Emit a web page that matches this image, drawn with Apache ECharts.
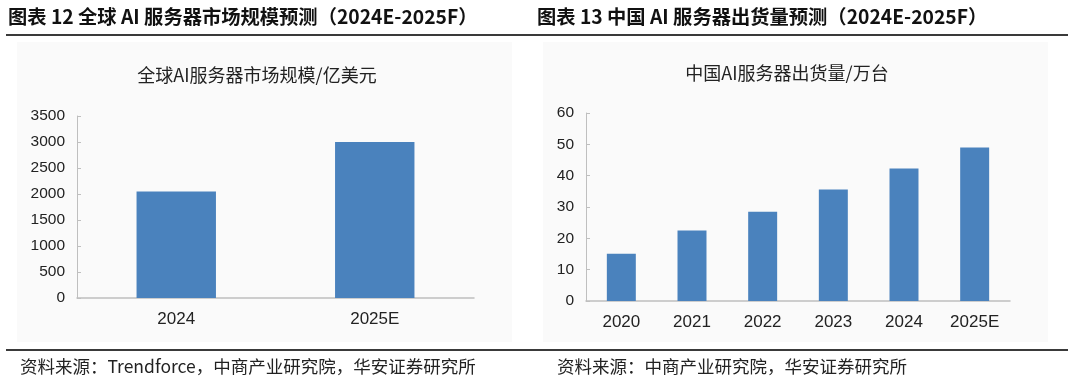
<!DOCTYPE html>
<html><head><meta charset="utf-8">
<script src="https://cdn.jsdelivr.net/npm/echarts@6/dist/echarts.min.js"></script>
<style>html,body{margin:0;padding:0;background:#fff}#c{width:1080px;height:383px}</style>
</head><body><div id="c"></div>
<script>
const headerLeft = '图表 12 全球 AI 服务器市场规模预测（2024E-2025F）';
const headerRight = '图表 13 中国 AI 服务器出货量预测（2024E-2025F）';
const titleLeft = '全球AI服务器市场规模/亿美元';
const titleRight = '中国AI服务器出货量/万台';
const sourceLeft = '资料来源：Trendforce，中商产业研究院，华安证券研究所';
const sourceRight = '资料来源：中商产业研究院，华安证券研究所';

const globalCats = ['2024', '2025E'];
const globalValues = [2050, 3000];
const chinaCats = ['2020', '2021', '2022', '2023', '2024', '2025E'];
const chinaValues = [15.1, 22.5, 28.5, 35.6, 42.3, 49.0];

const BAR = '#4a82bd';
const AXIS = '#bfbfbf';
const cjk = '"Noto Sans CJK SC", "Noto Sans", sans-serif';
const lat = 'Liberation Sans';

const chart = echarts.init(document.getElementById('c'));
function yAxis(idx, max, interval) {
  return {
    gridIndex: idx, type: 'value', min: 0, max: max, interval: interval,
    axisLine: {show: true, lineStyle: {color: AXIS, width: 1}},
    axisTick: {show: true, inside: true, length: 4, lineStyle: {color: AXIS}},
    splitLine: {show: false},
    axisLabel: {color: '#222', fontSize: 15.5, fontFamily: lat, margin: 12, formatter: v => String(v)}
  };
}
function xAxis(idx, cats) {
  return {
    gridIndex: idx, type: 'category', data: cats,
    axisLine: {show: true, lineStyle: {color: AXIS, width: 1.5}},
    axisTick: {show: false},
    axisLabel: {color: '#222', fontSize: 17, fontFamily: lat, margin: 13}
  };
}
chart.setOption({
  animation: false,
  grid: [
    {left: 77, right: 606, top: 116, height: 182},
    {left: 586, right: 70, top: 113, height: 188}
  ],
  xAxis: [xAxis(0, globalCats), xAxis(1, chinaCats)],
  yAxis: [yAxis(0, 3500, 500), yAxis(1, 60, 10)],
  series: [
    {type: 'bar', xAxisIndex: 0, yAxisIndex: 0, data: globalValues, barWidth: '40%', itemStyle: {color: BAR}},
    {type: 'bar', xAxisIndex: 1, yAxisIndex: 1, data: chinaValues, barWidth: '41%', itemStyle: {color: BAR}}
  ],
  graphic: [
    {type: 'rect', z: -10, shape: {x: 17, y: 42, width: 495, height: 300}, style: {fill: '#fafafa'}},
    {type: 'rect', z: -10, shape: {x: 543, y: 42, width: 505, height: 300}, style: {fill: '#fafafa'}},
    {type: 'line', shape: {x1: 6, y1: 35, x2: 1068, y2: 35}, style: {stroke: '#3a3a3a', lineWidth: 2}},
    {type: 'line', shape: {x1: 6, y1: 350, x2: 1068, y2: 350}, style: {stroke: '#3a3a3a', lineWidth: 2}},
    {type: 'text', x: 8, y: 17, style: {text: headerLeft, font: 'bold 19.3px ' + cjk, fill: '#111', textVerticalAlign: 'middle'}},
    {type: 'text', x: 537, y: 17, style: {text: headerRight, font: 'bold 19.3px ' + cjk, fill: '#111', textVerticalAlign: 'middle'}},
    {type: 'text', x: 257, y: 75, style: {text: titleLeft, font: '18px ' + cjk, fill: '#222', textAlign: 'center', textVerticalAlign: 'middle'}},
    {type: 'text', x: 787, y: 73, style: {text: titleRight, font: '18px ' + cjk, fill: '#222', textAlign: 'center', textVerticalAlign: 'middle'}},
    {type: 'text', x: 20, y: 366, style: {text: sourceLeft, font: '17.5px ' + cjk, fill: '#222', textVerticalAlign: 'middle'}},
    {type: 'text', x: 557, y: 366, style: {text: sourceRight, font: '17.5px ' + cjk, fill: '#222', textVerticalAlign: 'middle'}}
  ]
});
</script></body></html>
